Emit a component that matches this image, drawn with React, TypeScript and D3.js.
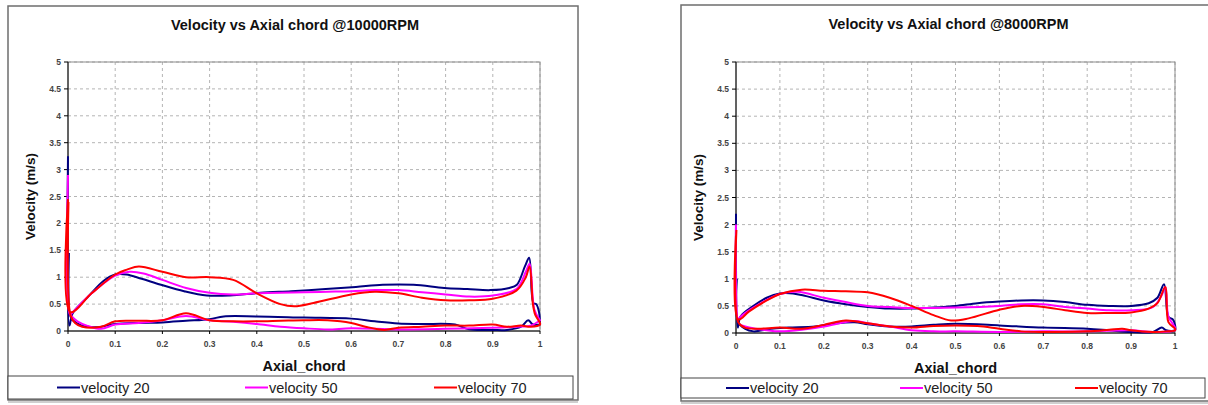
import React from 'react';
import * as d3 from 'd3';

type Pt = [number, number];

const seriesNames = ['velocity 20', 'velocity 50', 'velocity 70'];
const seriesColors = ['#000080', '#FF00FF', '#FF0000'];
const yTicks = [0, 0.5, 1, 1.5, 2, 2.5, 3, 3.5, 4, 4.5, 5];
const xTicks = [0, 0.1, 0.2, 0.3, 0.4, 0.5, 0.6, 0.7, 0.8, 0.9, 1];

// @10000RPM  (upper = suction side, lower = pressure side)
const v20Upper10k: Pt[] = [
  [0, 3.25], [0.003, 0.1], [0.01, 0.33], [0.043, 0.64], [0.075, 0.93], [0.1, 1.05], [0.124, 1.05],
  [0.156, 0.97], [0.197, 0.86], [0.246, 0.74], [0.294, 0.66], [0.343, 0.66], [0.408, 0.71],
  [0.473, 0.74], [0.546, 0.78], [0.61, 0.82], [0.667, 0.86], [0.732, 0.86], [0.797, 0.8],
  [0.846, 0.78], [0.895, 0.76], [0.935, 0.8], [0.951, 0.86], [0.968, 1.2], [0.977, 1.36],
  [0.986, 0.52], [0.992, 0.5], [0.998, 0.35], [1, 0.12],
];
const v20Lower10k: Pt[] = [
  [1, 0.12], [0.985, 0.12], [0.975, 0.2], [0.96, 0.08], [0.93, 0.02], [0.9, 0.02], [0.85, 0.03],
  [0.82, 0.12], [0.75, 0.13], [0.7, 0.14], [0.65, 0.18], [0.6, 0.23], [0.5, 0.25], [0.4, 0.27],
  [0.33, 0.27], [0.3, 0.22], [0.25, 0.19], [0.2, 0.16], [0.15, 0.15], [0.1, 0.13], [0.06, 0.07],
  [0.03, 0.1], [0.01, 0.2], [0.004, 0.3], [0.002, 1.45],
];
const v50Upper10k: Pt[] = [
  [0, 2.9], [0.004, 0.3], [0.01, 0.35], [0.05, 0.7], [0.1, 1.03], [0.13, 1.1], [0.16, 1.07],
  [0.2, 0.95], [0.25, 0.8], [0.3, 0.71], [0.35, 0.68], [0.4, 0.7], [0.5, 0.72], [0.55, 0.73],
  [0.6, 0.74], [0.65, 0.76], [0.7, 0.76], [0.75, 0.72], [0.8, 0.68], [0.85, 0.64], [0.9, 0.66],
  [0.95, 0.78], [0.97, 1.1], [0.978, 1.25], [0.988, 0.4], [1, 0.2],
];
const v50Lower10k: Pt[] = [
  [1, 0.2], [0.98, 0.1], [0.95, 0.08], [0.9, 0.06], [0.8, 0.04], [0.7, 0.03], [0.6, 0.05],
  [0.55, 0.03], [0.5, 0.05], [0.45, 0.08], [0.4, 0.13], [0.35, 0.17], [0.3, 0.2], [0.25, 0.28],
  [0.2, 0.2], [0.15, 0.15], [0.1, 0.12], [0.07, 0.04], [0.04, 0.1], [0.02, 0.18], [0.005, 0.3],
];
const v70Upper10k: Pt[] = [
  [0, 2.45], [0.005, 0.35], [0.05, 0.7], [0.1, 1.05], [0.125, 1.14], [0.15, 1.2], [0.2, 1.1],
  [0.25, 1.0], [0.3, 1.0], [0.35, 0.95], [0.4, 0.7], [0.45, 0.5], [0.48, 0.46], [0.52, 0.52],
  [0.6, 0.68], [0.65, 0.73], [0.7, 0.7], [0.75, 0.62], [0.8, 0.57], [0.85, 0.57], [0.9, 0.6],
  [0.95, 0.75], [0.97, 1.0], [0.978, 1.2], [0.985, 0.5], [0.99, 0.3], [1, 0.15],
];
const v70Lower10k: Pt[] = [
  [1, 0.12], [0.98, 0.08], [0.96, 0.1], [0.93, 0.08], [0.9, 0.12], [0.85, 0.1], [0.8, 0.1],
  [0.75, 0.08], [0.7, 0.06], [0.67, 0.02], [0.63, 0.08], [0.6, 0.15], [0.55, 0.2], [0.5, 0.2],
  [0.45, 0.19], [0.4, 0.18], [0.35, 0.18], [0.3, 0.2], [0.25, 0.33], [0.2, 0.2], [0.15, 0.19],
  [0.1, 0.18], [0.07, 0.08], [0.03, 0.08], [0.015, 0.15], [0.005, 0.3], [0.001, 2.4],
];

// @8000RPM
const v20Upper8k: Pt[] = [
  [0, 2.2], [0.004, 0.1], [0.01, 0.3], [0.04, 0.5], [0.07, 0.65], [0.1, 0.73], [0.13, 0.73],
  [0.16, 0.68], [0.2, 0.6], [0.25, 0.53], [0.3, 0.48], [0.35, 0.45], [0.4, 0.45], [0.45, 0.47],
  [0.5, 0.5], [0.55, 0.55], [0.6, 0.58], [0.65, 0.6], [0.7, 0.6], [0.75, 0.57], [0.8, 0.52],
  [0.85, 0.5], [0.9, 0.5], [0.94, 0.55], [0.96, 0.65], [0.975, 0.9], [0.985, 0.3],
  [0.995, 0.25], [1, 0.15],
];
const v20Lower8k: Pt[] = [
  [1, 0.05], [0.98, 0.05], [0.97, 0.1], [0.95, 0.02], [0.9, 0.02], [0.85, 0.05], [0.8, 0.08],
  [0.7, 0.1], [0.6, 0.14], [0.5, 0.17], [0.45, 0.15], [0.4, 0.12], [0.35, 0.12], [0.3, 0.16],
  [0.27, 0.2], [0.22, 0.17], [0.18, 0.12], [0.12, 0.1], [0.08, 0.08], [0.04, 0.03],
  [0.02, 0.08], [0.005, 0.2], [0.002, 1.0],
];
const v50Upper8k: Pt[] = [
  [0, 2.0], [0.005, 0.25], [0.01, 0.3], [0.05, 0.52], [0.1, 0.72], [0.14, 0.76], [0.2, 0.65],
  [0.25, 0.57], [0.3, 0.5], [0.35, 0.48], [0.4, 0.46], [0.5, 0.47], [0.6, 0.5], [0.65, 0.53],
  [0.7, 0.53], [0.75, 0.48], [0.8, 0.45], [0.85, 0.42], [0.9, 0.42], [0.95, 0.48], [0.97, 0.7],
  [0.978, 0.85], [0.985, 0.3], [1, 0.1],
];
const v50Lower8k: Pt[] = [
  [1, 0.05], [0.95, 0.02], [0.9, 0.05], [0.8, 0.03], [0.7, 0.03], [0.6, 0.02], [0.5, 0.03],
  [0.45, 0.03], [0.4, 0.05], [0.35, 0.12], [0.3, 0.18], [0.27, 0.22], [0.2, 0.12], [0.15, 0.06],
  [0.1, 0.03], [0.07, 0.05], [0.03, 0.1], [0.01, 0.15],
];
const v70Upper8k: Pt[] = [
  [0, 1.8], [0.005, 0.25], [0.03, 0.4], [0.07, 0.6], [0.1, 0.72], [0.15, 0.8], [0.2, 0.78],
  [0.25, 0.77], [0.3, 0.75], [0.35, 0.65], [0.4, 0.5], [0.45, 0.33], [0.49, 0.23], [0.53, 0.27],
  [0.6, 0.43], [0.65, 0.5], [0.7, 0.48], [0.75, 0.42], [0.8, 0.37], [0.85, 0.37], [0.9, 0.38],
  [0.94, 0.45], [0.96, 0.55], [0.978, 0.85], [0.985, 0.2], [1, 0.08],
];
const v70Lower8k: Pt[] = [
  [1, 0.05], [0.98, 0.03], [0.95, 0.02], [0.9, 0.05], [0.88, 0.08], [0.85, 0.06], [0.8, 0.03],
  [0.7, 0.02], [0.65, 0.03], [0.6, 0.08], [0.55, 0.13], [0.5, 0.14], [0.45, 0.13], [0.4, 0.1],
  [0.35, 0.12], [0.3, 0.18], [0.25, 0.23], [0.2, 0.15], [0.15, 0.08], [0.1, 0.1], [0.05, 0.08],
  [0.02, 0.1], [0.005, 0.2], [0.001, 1.9],
];

const FONT = "'Liberation Sans', Arial, sans-serif";

type ChartProps = {
  title: string;
  series: Pt[][];
  frame: { x0: number; y0: number; x1: number; y1: number };
  plot: { left: number; right: number; top: number; bottom: number };
  legend: { x0: number; x1: number; y0: number; y1: number; items: number[] };
};

const Chart = ({ title, series, frame, plot, legend }: ChartProps) => {
  const x = d3.scaleLinear().domain([0, 1]).range([plot.left, plot.right]);
  const y = d3.scaleLinear().domain([0, 5]).range([plot.bottom, plot.top]);
  const line = d3
    .line<Pt>()
    .x((d) => x(d[0]))
    .y((d) => y(d[1]))
    .curve(d3.curveCatmullRom.alpha(0.5)); // smooth like the excel lines
  const cx = (plot.left + plot.right) / 2;
  const cy = (plot.top + plot.bottom) / 2;
  const ly = (legend.y0 + legend.y1) / 2;

  return (
    <g>
      <rect
        x={frame.x0}
        y={frame.y0}
        width={frame.x1 - frame.x0}
        height={frame.y1 - frame.y0}
        fill="#fff"
        stroke="#6e6e6e"
        strokeWidth={1.5}
      />
      <line x1={frame.x0} x2={frame.x1} y1={frame.y1 + 2} y2={frame.y1 + 2} stroke="#a0a0a0" />
      <text x={(frame.x0 + frame.x1) / 2 + 2} y={frame.y0 + 24} textAnchor="middle" fontFamily={FONT} fontWeight="bold" fontSize={14.5} fill="#111">
        {title}
      </text>

      {/* grid */}
      {yTicks.slice(1).map((t) => (
        <line key={'gy' + t} x1={plot.left} x2={plot.right} y1={y(t)} y2={y(t)} stroke="#b4b4b4" strokeDasharray="3,3" />
      ))}
      {xTicks.slice(1).map((t) => (
        <line key={'gx' + t} x1={x(t)} x2={x(t)} y1={plot.top} y2={plot.bottom} stroke="#b4b4b4" strokeDasharray="3,3" />
      ))}
      <rect x={plot.left} y={plot.top} width={plot.right - plot.left} height={plot.bottom - plot.top} fill="none" stroke="#8c8c8c" />

      {/* axes */}
      <line x1={plot.left} x2={plot.left} y1={plot.top} y2={plot.bottom} stroke="#000" />
      <line x1={plot.left} x2={plot.right} y1={plot.bottom} y2={plot.bottom} stroke="#000" />
      {yTicks.map((t) => (
        <g key={'ty' + t}>
          <line x1={plot.left - 4} x2={plot.left} y1={y(t)} y2={y(t)} stroke="#000" />
          <text x={plot.left - 7} y={y(t) + 3} textAnchor="end" fontFamily={FONT} fontSize={8.5} fontWeight="bold" fill="#444">
            {t}
          </text>
        </g>
      ))}
      {xTicks.map((t) => (
        <g key={'tx' + t}>
          <line x1={x(t)} x2={x(t)} y1={plot.bottom} y2={plot.bottom + 3} stroke="#000" />
          <text x={x(t)} y={plot.bottom + 16} textAnchor="middle" fontFamily={FONT} fontSize={8.5} fontWeight="bold" fill="#444">
            {t}
          </text>
        </g>
      ))}
      <text x={cx} y={plot.bottom + 40} textAnchor="middle" fontFamily={FONT} fontWeight="bold" fontSize={14.5} fill="#111">
        Axial_chord
      </text>
      <text
        transform={`translate(${plot.left - 33},${cy}) rotate(-90)`}
        textAnchor="middle"
        fontFamily={FONT}
        fontWeight="bold"
        fontSize={13.5}
        fill="#111"
      >
        Velocity (m/s)
      </text>

      {/* series */}
      {series.map((s, i) => (
        <path key={i} d={line(s) ?? ''} fill="none" stroke={seriesColors[i]} strokeWidth={2} strokeLinejoin="round" />
      ))}

      {/* legend */}
      <rect x={legend.x0} y={legend.y0} width={legend.x1 - legend.x0} height={legend.y1 - legend.y0} fill="#fff" stroke="#444" />
      {seriesNames.map((n, i) => (
        <g key={n}>
          <line x1={legend.items[i]} x2={legend.items[i] + 23} y1={ly} y2={ly} stroke={seriesColors[i]} strokeWidth={2} />
          <text x={legend.items[i] + 24} y={ly + 5} fontFamily={FONT} fontSize={14.5} fill="#222">
            {n}
          </text>
        </g>
      ))}
    </g>
  );
};

export default function App() {
  const left = [
    v20Upper10k.concat(v20Lower10k),
    v50Upper10k.concat(v50Lower10k),
    v70Upper10k.concat(v70Lower10k),
  ];
  const right = [
    v20Upper8k.concat(v20Lower8k),
    v50Upper8k.concat(v50Lower8k),
    v70Upper8k.concat(v70Lower8k),
  ];
  return (
    <svg width={1208} height={405} style={{ position: 'absolute', left: 0, top: 0, background: '#fff' }}>
      <Chart
        title="Velocity vs Axial chord @10000RPM"
        series={left}
        frame={{ x0: 8, y0: 6, x1: 578, y1: 400 }}
        plot={{ left: 68, right: 540, top: 62, bottom: 331 }}
        legend={{ x0: 8, x1: 573, y0: 376, y1: 399, items: [57, 245, 434] }}
      />
      <Chart
        title="Velocity vs Axial chord @8000RPM"
        series={right}
        frame={{ x0: 681, y0: 5, x1: 1212, y1: 401 }}
        plot={{ left: 736, right: 1175, top: 62, bottom: 333 }}
        legend={{ x0: 681, x1: 1205, y0: 378, y1: 398, items: [726, 900, 1075] }}
      />
    </svg>
  );
}
